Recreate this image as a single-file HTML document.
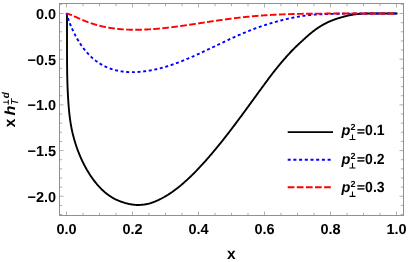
<!DOCTYPE html>
<html><head><meta charset="utf-8"><title>plot</title>
<style>html,body{margin:0;padding:0;background:#fff}svg{display:block;will-change:transform;text-rendering:geometricPrecision}</style></head>
<body>
<svg width="408" height="262" viewBox="0 0 408 262">
<rect width="408" height="262" fill="#fff"/>
<path d="M66.50,215.5v-4.0M66.50,3.5v4.0M83.00,215.5v-2.7M83.00,3.5v2.7M99.50,215.5v-2.7M99.50,3.5v2.7M116.00,215.5v-2.7M116.00,3.5v2.7M132.50,215.5v-4.0M132.50,3.5v4.0M149.00,215.5v-2.7M149.00,3.5v2.7M165.50,215.5v-2.7M165.50,3.5v2.7M182.00,215.5v-2.7M182.00,3.5v2.7M198.50,215.5v-4.0M198.50,3.5v4.0M215.00,215.5v-2.7M215.00,3.5v2.7M231.50,215.5v-2.7M231.50,3.5v2.7M248.00,215.5v-2.7M248.00,3.5v2.7M264.50,215.5v-4.0M264.50,3.5v4.0M281.00,215.5v-2.7M281.00,3.5v2.7M297.50,215.5v-2.7M297.50,3.5v2.7M314.00,215.5v-2.7M314.00,3.5v2.7M330.50,215.5v-4.0M330.50,3.5v4.0M347.00,215.5v-2.7M347.00,3.5v2.7M363.50,215.5v-2.7M363.50,3.5v2.7M380.00,215.5v-2.7M380.00,3.5v2.7M396.50,215.5v-4.0M396.50,3.5v4.0M59.5,214.54h2.7M403.5,214.54h-2.7M59.5,205.40h2.7M403.5,205.40h-2.7M59.5,196.26h4.0M403.5,196.26h-4.0M59.5,187.12h2.7M403.5,187.12h-2.7M59.5,177.98h2.7M403.5,177.98h-2.7M59.5,168.85h2.7M403.5,168.85h-2.7M59.5,159.71h2.7M403.5,159.71h-2.7M59.5,150.57h4.0M403.5,150.57h-4.0M59.5,141.43h2.7M403.5,141.43h-2.7M59.5,132.29h2.7M403.5,132.29h-2.7M59.5,123.16h2.7M403.5,123.16h-2.7M59.5,114.02h2.7M403.5,114.02h-2.7M59.5,104.88h4.0M403.5,104.88h-4.0M59.5,95.74h2.7M403.5,95.74h-2.7M59.5,86.60h2.7M403.5,86.60h-2.7M59.5,77.47h2.7M403.5,77.47h-2.7M59.5,68.33h2.7M403.5,68.33h-2.7M59.5,59.19h4.0M403.5,59.19h-4.0M59.5,50.05h2.7M403.5,50.05h-2.7M59.5,40.91h2.7M403.5,40.91h-2.7M59.5,31.78h2.7M403.5,31.78h-2.7M59.5,22.64h2.7M403.5,22.64h-2.7M59.5,13.50h4.0M403.5,13.50h-4.0M59.5,4.36h2.7M403.5,4.36h-2.7" stroke="#a0a0a0" stroke-width="0.85" fill="none"/>
<rect x="59.5" y="3.5" width="344.0" height="212.0" fill="none" stroke="#909090" stroke-width="1"/>
<g fill="none" stroke-width="1.9" stroke-linejoin="round">
<path d="M67.00,13.50 L67.00,30.98 L67.00,40.80 L67.03,56.16 L67.10,66.29 L67.20,73.90 L67.33,80.21 L67.50,85.71 L67.66,89.89 L67.93,95.14 L68.36,101.96 L68.73,107.19 L69.12,111.48 L69.52,115.17 L69.93,118.41 L70.35,121.33 L70.76,123.99 L71.19,126.44 L71.61,128.71 L72.05,130.84 L72.51,132.84 L72.98,134.74 L73.44,136.54 L73.90,138.26 L74.37,139.90 L74.83,141.48 L75.29,142.99 L75.75,144.45 L76.22,145.86 L76.68,147.22 L77.14,148.54 L77.60,149.82 L78.07,151.06 L78.53,152.26 L78.99,153.44 L79.45,154.58 L79.92,155.69 L80.38,156.78 L80.84,157.84 L81.31,158.87 L81.77,159.88 L82.23,160.87 L82.69,161.84 L83.16,162.79 L83.62,163.72 L84.08,164.62 L84.54,165.51 L85.01,166.39 L85.47,167.24 L85.93,168.08 L86.40,168.91 L86.86,169.71 L87.32,170.51 L87.78,171.29 L88.25,172.05 L88.71,172.80 L89.17,173.54 L89.64,174.26 L90.10,174.98 L90.56,175.68 L91.02,176.37 L91.49,177.04 L91.95,177.71 L92.41,178.36 L92.88,179.00 L93.34,179.63 L93.80,180.25 L94.26,180.86 L94.73,181.46 L95.19,182.05 L95.65,182.63 L96.12,183.20 L96.58,183.76 L97.04,184.31 L97.50,184.86 L97.97,185.39 L98.43,185.91 L98.89,186.43 L99.36,186.93 L99.82,187.43 L100.28,187.92 L100.74,188.40 L101.21,188.87 L101.67,189.32 L102.13,189.77 L102.60,190.21 L103.06,190.64 L103.52,191.06 L103.99,191.48 L104.45,191.88 L104.91,192.28 L105.37,192.66 L105.84,193.04 L106.30,193.41 L106.76,193.78 L107.23,194.13 L107.69,194.48 L108.15,194.82 L108.62,195.16 L109.08,195.48 L109.54,195.80 L110.01,196.12 L110.47,196.42 L110.93,196.72 L111.40,197.02 L111.86,197.30 L112.32,197.58 L112.79,197.86 L113.25,198.12 L113.71,198.38 L114.18,198.63 L114.64,198.87 L115.10,199.11 L115.57,199.34 L116.03,199.56 L116.49,199.78 L116.96,199.99 L117.42,200.20 L117.88,200.40 L118.35,200.59 L118.81,200.78 L119.27,200.97 L119.74,201.15 L120.20,201.33 L120.66,201.50 L121.13,201.67 L121.59,201.84 L122.05,202.00 L122.52,202.16 L122.98,202.31 L123.44,202.46 L123.91,202.61 L124.37,202.76 L124.83,202.90 L125.30,203.04 L125.76,203.17 L126.22,203.30 L126.69,203.42 L127.15,203.54 L127.62,203.66 L128.08,203.77 L128.54,203.87 L129.01,203.97 L129.47,204.06 L129.93,204.15 L130.40,204.23 L130.86,204.31 L131.33,204.39 L131.79,204.46 L132.25,204.53 L132.72,204.60 L133.18,204.66 L133.64,204.72 L134.11,204.77 L134.57,204.81 L135.04,204.85 L135.50,204.89 L135.96,204.91 L136.43,204.93 L136.89,204.95 L137.36,204.96 L137.82,204.97 L138.28,204.97 L138.75,204.96 L139.21,204.95 L139.68,204.94 L140.14,204.92 L140.60,204.89 L141.07,204.86 L141.53,204.82 L142.00,204.78 L142.46,204.74 L142.93,204.69 L143.39,204.63 L143.85,204.58 L144.32,204.52 L144.78,204.45 L145.25,204.38 L145.71,204.30 L146.18,204.22 L146.64,204.13 L147.10,204.04 L147.57,203.94 L148.03,203.83 L148.50,203.72 L148.96,203.60 L149.43,203.47 L149.89,203.33 L150.36,203.19 L150.82,203.04 L151.29,202.89 L151.75,202.74 L152.21,202.58 L152.68,202.41 L153.14,202.24 L153.61,202.07 L154.07,201.89 L154.54,201.71 L155.00,201.52 L155.47,201.33 L155.93,201.14 L156.40,200.94 L156.86,200.74 L157.33,200.53 L157.79,200.32 L158.26,200.11 L158.72,199.89 L159.19,199.67 L159.65,199.44 L160.12,199.21 L160.58,198.98 L161.05,198.74 L161.51,198.50 L161.98,198.25 L162.44,198.00 L162.91,197.75 L163.37,197.49 L163.84,197.23 L164.30,196.97 L164.77,196.70 L165.23,196.43 L165.70,196.16 L166.16,195.88 L166.63,195.59 L167.09,195.31 L167.56,195.02 L168.03,194.73 L168.49,194.43 L168.96,194.13 L169.42,193.83 L169.89,193.52 L170.35,193.21 L170.82,192.90 L171.28,192.58 L171.75,192.26 L172.22,191.94 L172.68,191.61 L173.15,191.28 L173.61,190.94 L174.08,190.60 L174.54,190.26 L175.01,189.92 L175.48,189.57 L175.94,189.22 L176.41,188.86 L176.87,188.51 L177.34,188.14 L177.81,187.78 L178.27,187.41 L178.74,187.04 L179.20,186.66 L179.67,186.28 L180.14,185.90 L180.60,185.51 L181.07,185.13 L181.53,184.73 L182.00,184.34 L182.47,183.94 L182.93,183.54 L183.40,183.13 L183.87,182.73 L184.33,182.31 L184.80,181.90 L185.27,181.48 L185.73,181.06 L186.20,180.64 L186.66,180.22 L187.13,179.79 L187.60,179.36 L188.06,178.92 L188.53,178.49 L189.00,178.05 L189.46,177.61 L189.93,177.16 L190.40,176.72 L190.87,176.27 L191.33,175.82 L191.80,175.36 L192.27,174.90 L192.73,174.44 L193.20,173.98 L193.67,173.51 L194.13,173.05 L194.60,172.58 L195.07,172.10 L195.53,171.62 L196.00,171.15 L196.47,170.66 L196.94,170.18 L197.40,169.69 L197.87,169.20 L198.34,168.71 L198.81,168.22 L199.27,167.72 L199.74,167.22 L200.21,166.72 L200.68,166.22 L201.14,165.71 L201.61,165.20 L202.08,164.69 L202.55,164.18 L203.01,163.67 L203.48,163.15 L203.95,162.63 L204.42,162.11 L204.88,161.58 L205.35,161.06 L205.82,160.53 L206.29,160.00 L206.76,159.47 L207.22,158.94 L207.69,158.40 L208.16,157.87 L208.63,157.33 L209.10,156.79 L209.56,156.24 L210.03,155.70 L210.50,155.15 L210.97,154.61 L211.44,154.06 L211.91,153.51 L212.37,152.95 L212.84,152.40 L213.31,151.84 L213.78,151.29 L214.25,150.73 L214.72,150.17 L215.18,149.61 L215.65,149.04 L216.12,148.48 L216.59,147.91 L217.06,147.34 L217.53,146.77 L218.00,146.20 L218.47,145.62 L218.93,145.05 L219.40,144.47 L219.87,143.89 L220.34,143.31 L220.81,142.73 L221.28,142.14 L221.75,141.56 L222.22,140.97 L222.69,140.38 L223.16,139.79 L223.63,139.20 L224.09,138.60 L224.56,138.01 L225.03,137.41 L225.50,136.81 L225.97,136.21 L226.44,135.61 L226.91,135.01 L227.38,134.40 L227.85,133.80 L228.32,133.19 L228.79,132.58 L229.26,131.97 L229.73,131.36 L230.20,130.75 L230.67,130.14 L231.14,129.52 L231.61,128.91 L232.08,128.29 L232.55,127.67 L233.02,127.05 L233.49,126.43 L233.96,125.81 L234.43,125.18 L234.90,124.56 L235.37,123.93 L235.84,123.31 L236.31,122.68 L236.78,122.05 L237.25,121.42 L237.72,120.79 L238.19,120.16 L238.66,119.53 L239.13,118.89 L239.60,118.26 L240.08,117.62 L240.55,116.99 L241.02,116.35 L241.49,115.71 L241.96,115.07 L242.43,114.44 L242.90,113.80 L243.37,113.15 L243.84,112.51 L244.31,111.87 L244.78,111.23 L245.26,110.59 L245.73,109.94 L246.20,109.30 L246.67,108.65 L247.14,108.01 L247.61,107.36 L248.08,106.72 L248.56,106.07 L249.03,105.42 L249.50,104.78 L249.97,104.13 L250.44,103.48 L250.91,102.83 L251.39,102.18 L251.86,101.53 L252.33,100.88 L252.80,100.24 L253.27,99.59 L253.75,98.94 L254.22,98.29 L254.69,97.64 L255.16,96.99 L255.63,96.34 L256.11,95.69 L256.58,95.04 L257.05,94.39 L257.52,93.74 L258.00,93.09 L258.47,92.44 L258.94,91.80 L259.41,91.15 L259.89,90.50 L260.36,89.85 L260.83,89.20 L261.30,88.56 L261.78,87.91 L262.25,87.26 L262.72,86.62 L263.20,85.97 L263.67,85.33 L264.14,84.69 L264.61,84.04 L265.09,83.40 L265.56,82.76 L266.03,82.12 L266.51,81.48 L266.98,80.84 L267.45,80.20 L267.93,79.56 L268.40,78.92 L268.87,78.29 L269.35,77.65 L269.82,77.02 L270.30,76.39 L270.77,75.76 L271.24,75.13 L271.72,74.51 L272.19,73.89 L272.66,73.28 L273.14,72.67 L273.61,72.06 L274.09,71.46 L274.56,70.85 L275.04,70.26 L275.51,69.66 L275.98,69.07 L276.46,68.48 L276.93,67.89 L277.41,67.31 L277.88,66.73 L278.36,66.15 L278.83,65.58 L279.31,65.00 L279.78,64.43 L280.26,63.87 L280.73,63.30 L281.21,62.74 L281.68,62.18 L282.15,61.62 L282.63,61.07 L283.11,60.52 L283.58,59.97 L284.06,59.42 L284.53,58.87 L285.01,58.33 L285.48,57.79 L285.96,57.25 L286.43,56.71 L286.91,56.18 L287.38,55.64 L287.86,55.11 L288.34,54.58 L288.81,54.06 L289.29,53.54 L289.76,53.02 L290.24,52.52 L290.71,52.01 L291.19,51.51 L291.67,51.02 L292.14,50.52 L292.62,50.04 L293.10,49.55 L293.57,49.07 L294.05,48.60 L294.52,48.12 L295.00,47.66 L295.48,47.19 L295.95,46.73 L296.43,46.27 L296.91,45.81 L297.38,45.35 L297.86,44.90 L298.34,44.45 L298.81,44.00 L299.29,43.55 L299.77,43.11 L300.25,42.66 L300.72,42.22 L301.20,41.78 L301.68,41.34 L302.16,40.90 L302.63,40.46 L303.11,40.02 L303.59,39.59 L304.07,39.15 L304.54,38.71 L305.02,38.27 L305.50,37.84 L305.98,37.40 L306.45,36.97 L306.93,36.55 L307.41,36.13 L307.89,35.71 L308.37,35.29 L308.84,34.88 L309.32,34.48 L309.80,34.07 L310.28,33.67 L310.76,33.28 L311.24,32.89 L311.71,32.50 L312.19,32.12 L312.67,31.74 L313.15,31.37 L313.63,31.00 L314.11,30.63 L314.59,30.27 L315.07,29.92 L315.55,29.57 L316.02,29.22 L316.50,28.88 L316.98,28.54 L317.46,28.21 L317.94,27.88 L318.42,27.56 L318.90,27.25 L319.38,26.94 L319.86,26.63 L320.34,26.33 L320.82,26.03 L321.30,25.74 L321.78,25.46 L322.26,25.18 L322.74,24.90 L323.22,24.63 L323.70,24.36 L324.18,24.10 L324.66,23.84 L325.14,23.59 L325.62,23.34 L326.10,23.10 L326.58,22.86 L327.06,22.63 L327.54,22.40 L328.02,22.17 L328.50,21.95 L328.98,21.73 L329.46,21.52 L329.95,21.31 L330.43,21.10 L330.91,20.90 L331.39,20.71 L331.87,20.51 L332.35,20.32 L332.83,20.13 L333.31,19.95 L333.80,19.77 L334.28,19.59 L334.76,19.42 L335.24,19.25 L335.72,19.08 L336.20,18.92 L336.69,18.76 L337.17,18.61 L337.65,18.45 L338.13,18.30 L338.61,18.16 L339.10,18.01 L339.58,17.87 L340.06,17.74 L340.54,17.60 L341.03,17.46 L341.51,17.32 L341.99,17.18 L342.47,17.05 L342.96,16.91 L343.44,16.77 L343.92,16.64 L344.40,16.50 L344.89,16.37 L345.37,16.24 L345.85,16.11 L346.34,15.99 L346.82,15.87 L347.30,15.75 L347.79,15.63 L348.27,15.52 L348.75,15.42 L349.24,15.32 L349.72,15.22 L350.21,15.13 L350.69,15.04 L351.17,14.95 L351.66,14.87 L352.14,14.78 L352.63,14.70 L353.11,14.63 L353.59,14.55 L354.08,14.48 L354.56,14.41 L355.05,14.35 L355.53,14.29 L356.02,14.23 L356.50,14.17 L356.99,14.12 L357.47,14.08 L357.96,14.03 L358.44,13.99 L358.93,13.95 L359.41,13.90 L359.90,13.87 L360.38,13.83 L360.87,13.79 L361.35,13.76 L361.84,13.73 L362.32,13.70 L362.81,13.67 L363.29,13.64 L363.78,13.62 L364.27,13.60 L364.75,13.59 L365.24,13.57 L365.72,13.56 L366.21,13.56 L366.70,13.55 L367.18,13.55 L367.67,13.54 L368.16,13.54 L368.64,13.53 L369.13,13.53 L369.62,13.52 L370.10,13.52 L370.59,13.52 L371.08,13.52 L371.56,13.51 L372.05,13.51 L372.54,13.51 L373.02,13.51 L373.51,13.51 L374.00,13.51 L374.49,13.51 L374.97,13.50 L375.46,13.50 L375.95,13.50 L376.44,13.50 L376.92,13.50 L377.41,13.50 L377.90,13.50 L378.39,13.50 L378.88,13.50 L379.36,13.50 L379.85,13.50 L380.34,13.50 L380.83,13.50 L381.32,13.50 L381.81,13.50 L382.29,13.50 L382.78,13.50 L383.27,13.50 L383.76,13.50 L384.25,13.50 L384.74,13.50 L385.23,13.50 L385.72,13.50 L386.21,13.50 L386.70,13.50 L387.19,13.50 L387.68,13.50 L388.16,13.50 L388.65,13.50 L389.14,13.50 L389.63,13.50 L390.12,13.50 L390.61,13.50 L391.10,13.50 L391.59,13.50 L392.08,13.50 L392.57,13.50 L393.07,13.50 L393.56,13.50 L394.05,13.50 L394.54,13.50 L395.03,13.50 L395.52,13.50 L396.01,13.50 L396.50,13.50 L397.50,13.50" stroke="#000"/>
<path d="M66.50,13.50 L66.50,13.50 L66.50,13.52 L66.53,13.65 L66.60,13.92 L66.70,14.28 L66.83,14.75 L67.00,15.30 L67.16,15.84 L67.43,16.68 L67.89,18.07 L68.35,19.40 L68.81,20.68 L69.28,21.92 L69.74,23.12 L70.20,24.29 L70.66,25.42 L71.13,26.52 L71.59,27.59 L72.05,28.64 L72.51,29.66 L72.98,30.66 L73.44,31.64 L73.90,32.59 L74.37,33.52 L74.83,34.43 L75.29,35.32 L75.75,36.19 L76.22,37.04 L76.68,37.88 L77.14,38.69 L77.60,39.49 L78.07,40.27 L78.53,41.04 L78.99,41.79 L79.45,42.52 L79.92,43.24 L80.38,43.95 L80.84,44.64 L81.31,45.31 L81.77,45.97 L82.23,46.62 L82.69,47.26 L83.16,47.88 L83.62,48.49 L84.08,49.09 L84.54,49.67 L85.01,50.25 L85.47,50.81 L85.93,51.36 L86.40,51.90 L86.86,52.43 L87.32,52.95 L87.78,53.45 L88.25,53.95 L88.71,54.44 L89.17,54.92 L89.64,55.38 L90.10,55.84 L90.56,56.29 L91.02,56.73 L91.49,57.16 L91.95,57.58 L92.41,58.00 L92.88,58.40 L93.34,58.80 L93.80,59.18 L94.26,59.56 L94.73,59.94 L95.19,60.30 L95.65,60.66 L96.12,61.01 L96.58,61.35 L97.04,61.68 L97.50,62.01 L97.97,62.33 L98.43,62.64 L98.89,62.95 L99.36,63.25 L99.82,63.54 L100.28,63.83 L100.74,64.11 L101.21,64.38 L101.67,64.65 L102.13,64.91 L102.60,65.17 L103.06,65.42 L103.52,65.66 L103.99,65.90 L104.45,66.13 L104.91,66.36 L105.37,66.58 L105.84,66.79 L106.30,67.00 L106.76,67.21 L107.23,67.41 L107.69,67.61 L108.15,67.80 L108.62,67.98 L109.08,68.16 L109.54,68.34 L110.01,68.51 L110.47,68.67 L110.93,68.83 L111.40,68.99 L111.86,69.14 L112.32,69.29 L112.79,69.44 L113.25,69.58 L113.71,69.71 L114.18,69.84 L114.64,69.97 L115.10,70.09 L115.57,70.21 L116.03,70.32 L116.49,70.43 L116.96,70.54 L117.42,70.64 L117.88,70.74 L118.35,70.84 L118.81,70.93 L119.27,71.02 L119.74,71.10 L120.20,71.18 L120.66,71.26 L121.13,71.34 L121.59,71.41 L122.05,71.47 L122.52,71.54 L122.98,71.60 L123.44,71.65 L123.91,71.71 L124.37,71.76 L124.83,71.81 L125.30,71.85 L125.76,71.89 L126.22,71.93 L126.69,71.97 L127.15,72.00 L127.62,72.03 L128.08,72.05 L128.54,72.08 L129.01,72.10 L129.47,72.11 L129.93,72.13 L130.40,72.14 L130.86,72.15 L131.33,72.16 L131.79,72.16 L132.25,72.16 L132.72,72.16 L133.18,72.16 L133.64,72.15 L134.11,72.14 L134.57,72.13 L135.04,72.11 L135.50,72.10 L135.96,72.08 L136.43,72.06 L136.89,72.03 L137.36,72.01 L137.82,71.98 L138.28,71.95 L138.75,71.91 L139.21,71.88 L139.68,71.84 L140.14,71.80 L140.60,71.76 L141.07,71.72 L141.53,71.68 L142.00,71.63 L142.46,71.58 L142.93,71.53 L143.39,71.47 L143.85,71.42 L144.32,71.36 L144.78,71.30 L145.25,71.24 L145.71,71.18 L146.18,71.11 L146.64,71.05 L147.10,70.98 L147.57,70.91 L148.03,70.83 L148.50,70.76 L148.96,70.68 L149.43,70.60 L149.89,70.52 L150.36,70.44 L150.82,70.36 L151.29,70.27 L151.75,70.18 L152.21,70.10 L152.68,70.00 L153.14,69.91 L153.61,69.82 L154.07,69.72 L154.54,69.62 L155.00,69.52 L155.47,69.42 L155.93,69.32 L156.40,69.21 L156.86,69.10 L157.33,69.00 L157.79,68.88 L158.26,68.77 L158.72,68.66 L159.19,68.54 L159.65,68.43 L160.12,68.31 L160.58,68.19 L161.05,68.07 L161.51,67.94 L161.98,67.82 L162.44,67.69 L162.91,67.56 L163.37,67.43 L163.84,67.30 L164.30,67.16 L164.77,67.03 L165.23,66.89 L165.70,66.76 L166.16,66.62 L166.63,66.47 L167.09,66.33 L167.56,66.19 L168.03,66.04 L168.49,65.89 L168.96,65.74 L169.42,65.59 L169.89,65.44 L170.35,65.29 L170.82,65.13 L171.28,64.98 L171.75,64.82 L172.22,64.66 L172.68,64.50 L173.15,64.34 L173.61,64.18 L174.08,64.01 L174.54,63.85 L175.01,63.68 L175.48,63.51 L175.94,63.34 L176.41,63.17 L176.87,63.00 L177.34,62.83 L177.81,62.66 L178.27,62.48 L178.74,62.30 L179.20,62.13 L179.67,61.95 L180.14,61.77 L180.60,61.59 L181.07,61.41 L181.53,61.22 L182.00,61.04 L182.47,60.85 L182.93,60.67 L183.40,60.48 L183.87,60.29 L184.33,60.10 L184.80,59.91 L185.27,59.72 L185.73,59.53 L186.20,59.34 L186.66,59.14 L187.13,58.95 L187.60,58.75 L188.06,58.55 L188.53,58.36 L189.00,58.16 L189.46,57.96 L189.93,57.76 L190.40,57.56 L190.87,57.36 L191.33,57.15 L191.80,56.95 L192.27,56.75 L192.73,56.54 L193.20,56.33 L193.67,56.13 L194.13,55.92 L194.60,55.71 L195.07,55.50 L195.53,55.29 L196.00,55.08 L196.47,54.87 L196.94,54.66 L197.40,54.45 L197.87,54.24 L198.34,54.03 L198.81,53.81 L199.27,53.60 L199.74,53.38 L200.21,53.17 L200.68,52.95 L201.14,52.73 L201.61,52.52 L202.08,52.30 L202.55,52.08 L203.01,51.86 L203.48,51.65 L203.95,51.43 L204.42,51.21 L204.88,50.99 L205.35,50.77 L205.82,50.55 L206.29,50.33 L206.76,50.10 L207.22,49.88 L207.69,49.66 L208.16,49.44 L208.63,49.22 L209.10,48.99 L209.56,48.77 L210.03,48.55 L210.50,48.32 L210.97,48.10 L211.44,47.88 L211.91,47.65 L212.37,47.43 L212.84,47.21 L213.31,46.98 L213.78,46.76 L214.25,46.53 L214.72,46.31 L215.18,46.08 L215.65,45.86 L216.12,45.64 L216.59,45.41 L217.06,45.19 L217.53,44.96 L218.00,44.74 L218.47,44.51 L218.93,44.29 L219.40,44.07 L219.87,43.84 L220.34,43.62 L220.81,43.39 L221.28,43.17 L221.75,42.95 L222.22,42.72 L222.69,42.50 L223.16,42.28 L223.63,42.06 L224.09,41.84 L224.56,41.61 L225.03,41.39 L225.50,41.17 L225.97,40.95 L226.44,40.73 L226.91,40.51 L227.38,40.29 L227.85,40.07 L228.32,39.85 L228.79,39.64 L229.26,39.42 L229.73,39.20 L230.20,38.98 L230.67,38.77 L231.14,38.55 L231.61,38.34 L232.08,38.12 L232.55,37.91 L233.02,37.69 L233.49,37.48 L233.96,37.27 L234.43,37.06 L234.90,36.84 L235.37,36.63 L235.84,36.42 L236.31,36.21 L236.78,36.00 L237.25,35.80 L237.72,35.59 L238.19,35.38 L238.66,35.18 L239.13,34.97 L239.60,34.77 L240.08,34.56 L240.55,34.36 L241.02,34.16 L241.49,33.95 L241.96,33.75 L242.43,33.55 L242.90,33.35 L243.37,33.15 L243.84,32.96 L244.31,32.76 L244.78,32.56 L245.26,32.37 L245.73,32.17 L246.20,31.98 L246.67,31.79 L247.14,31.60 L247.61,31.41 L248.08,31.22 L248.56,31.03 L249.03,30.84 L249.50,30.65 L249.97,30.47 L250.44,30.28 L250.91,30.10 L251.39,29.91 L251.86,29.73 L252.33,29.55 L252.80,29.37 L253.27,29.19 L253.75,29.01 L254.22,28.83 L254.69,28.66 L255.16,28.48 L255.63,28.31 L256.11,28.13 L256.58,27.96 L257.05,27.79 L257.52,27.62 L258.00,27.45 L258.47,27.28 L258.94,27.12 L259.41,26.95 L259.89,26.79 L260.36,26.62 L260.83,26.46 L261.30,26.30 L261.78,26.14 L262.25,25.98 L262.72,25.82 L263.20,25.67 L263.67,25.51 L264.14,25.36 L264.61,25.20 L265.09,25.05 L265.56,24.90 L266.03,24.75 L266.51,24.60 L266.98,24.45 L267.45,24.31 L267.93,24.16 L268.40,24.02 L268.87,23.87 L269.35,23.73 L269.82,23.59 L270.30,23.45 L270.77,23.31 L271.24,23.17 L271.72,23.03 L272.19,22.89 L272.66,22.76 L273.14,22.62 L273.61,22.48 L274.09,22.34 L274.56,22.21 L275.04,22.07 L275.51,21.93 L275.98,21.80 L276.46,21.66 L276.93,21.53 L277.41,21.40 L277.88,21.27 L278.36,21.13 L278.83,21.00 L279.31,20.87 L279.78,20.75 L280.26,20.62 L280.73,20.49 L281.21,20.37 L281.68,20.24 L282.15,20.12 L282.63,20.00 L283.11,19.88 L283.58,19.76 L284.06,19.64 L284.53,19.53 L285.01,19.41 L285.48,19.30 L285.96,19.19 L286.43,19.08 L286.91,18.97 L287.38,18.86 L287.86,18.75 L288.34,18.65 L288.81,18.54 L289.29,18.44 L289.76,18.34 L290.24,18.23 L290.71,18.13 L291.19,18.03 L291.67,17.93 L292.14,17.83 L292.62,17.74 L293.10,17.64 L293.57,17.54 L294.05,17.45 L294.52,17.36 L295.00,17.26 L295.48,17.17 L295.95,17.08 L296.43,16.99 L296.91,16.91 L297.38,16.82 L297.86,16.74 L298.34,16.65 L298.81,16.57 L299.29,16.49 L299.77,16.41 L300.25,16.34 L300.72,16.26 L301.20,16.19 L301.68,16.11 L302.16,16.04 L302.63,15.97 L303.11,15.90 L303.59,15.84 L304.07,15.77 L304.54,15.70 L305.02,15.64 L305.50,15.58 L305.98,15.51 L306.45,15.45 L306.93,15.39 L307.41,15.33 L307.89,15.27 L308.37,15.22 L308.84,15.16 L309.32,15.11 L309.80,15.05 L310.28,15.00 L310.76,14.95 L311.24,14.90 L311.71,14.85 L312.19,14.81 L312.67,14.76 L313.15,14.72 L313.63,14.68 L314.11,14.64 L314.59,14.60 L315.07,14.56 L315.55,14.53 L316.02,14.50 L316.50,14.47 L316.98,14.44 L317.46,14.41 L317.94,14.38 L318.42,14.36 L318.90,14.34 L319.38,14.32 L319.86,14.29 L320.34,14.28 L320.82,14.26 L321.30,14.24 L321.78,14.22 L322.26,14.21 L322.74,14.19 L323.22,14.18 L323.70,14.16 L324.18,14.15 L324.66,14.14 L325.14,14.12 L325.62,14.11 L326.10,14.10 L326.58,14.08 L327.06,14.07 L327.54,14.05 L328.02,14.04 L328.50,14.03 L328.98,14.01 L329.46,14.00 L329.95,13.98 L330.43,13.96 L330.91,13.95 L331.39,13.93 L331.87,13.92 L332.35,13.90 L332.83,13.89 L333.31,13.87 L333.80,13.86 L334.28,13.85 L334.76,13.83 L335.24,13.82 L335.72,13.81 L336.20,13.80 L336.69,13.79 L337.17,13.78 L337.65,13.76 L338.13,13.75 L338.61,13.74 L339.10,13.73 L339.58,13.73 L340.06,13.72 L340.54,13.71 L341.03,13.70 L341.51,13.69 L341.99,13.68 L342.47,13.68 L342.96,13.67 L343.44,13.66 L343.92,13.65 L344.40,13.65 L344.89,13.64 L345.37,13.63 L345.85,13.63 L346.34,13.62 L346.82,13.62 L347.30,13.61 L347.79,13.61 L348.27,13.60 L348.75,13.60 L349.24,13.59 L349.72,13.59 L350.21,13.58 L350.69,13.58 L351.17,13.58 L351.66,13.57 L352.14,13.57 L352.63,13.56 L353.11,13.56 L353.59,13.56 L354.08,13.56 L354.56,13.55 L355.05,13.55 L355.53,13.55 L356.02,13.54 L356.50,13.54 L356.99,13.54 L357.47,13.54 L357.96,13.54 L358.44,13.53 L358.93,13.53 L359.41,13.53 L359.90,13.53 L360.38,13.53 L360.87,13.52 L361.35,13.52 L361.84,13.52 L362.32,13.52 L362.81,13.52 L363.29,13.52 L363.78,13.52 L364.27,13.52 L364.75,13.51 L365.24,13.51 L365.72,13.51 L366.21,13.51 L366.70,13.51 L367.18,13.51 L367.67,13.51 L368.16,13.51 L368.64,13.51 L369.13,13.51 L369.62,13.51 L370.10,13.51 L370.59,13.51 L371.08,13.51 L371.56,13.50 L372.05,13.50 L372.54,13.50 L373.02,13.50 L373.51,13.50 L374.00,13.50 L374.49,13.50 L374.97,13.50 L375.46,13.50 L375.95,13.50 L376.44,13.50 L376.92,13.50 L377.41,13.50 L377.90,13.50 L378.39,13.50 L378.88,13.50 L379.36,13.50 L379.85,13.50 L380.34,13.50 L380.83,13.50 L381.32,13.50 L381.81,13.50 L382.29,13.50 L382.78,13.50 L383.27,13.50 L383.76,13.50 L384.25,13.50 L384.74,13.50 L385.23,13.50 L385.72,13.50 L386.21,13.50 L386.70,13.50 L387.19,13.50 L387.68,13.50 L388.16,13.50 L388.65,13.50 L389.14,13.50 L389.63,13.50 L390.12,13.50 L390.61,13.50 L391.10,13.50 L391.59,13.50 L392.08,13.50 L392.57,13.50 L393.07,13.50 L393.56,13.50 L394.05,13.50 L394.54,13.50 L395.03,13.50 L395.52,13.50 L396.01,13.50 L396.50,13.50" stroke="#0000ff" stroke-dasharray="3 2.65" stroke-dashoffset="1.0"/>
<path d="M66.50,13.50 L66.50,13.50 L66.50,13.50 L66.53,13.50 L66.60,13.51 L66.70,13.52 L66.83,13.54 L67.00,13.57 L67.16,13.60 L67.43,13.66 L67.89,13.78 L68.35,13.92 L68.81,14.07 L69.28,14.23 L69.74,14.40 L70.20,14.58 L70.66,14.76 L71.13,14.95 L71.59,15.14 L72.05,15.34 L72.51,15.54 L72.98,15.74 L73.44,15.95 L73.90,16.15 L74.37,16.36 L74.83,16.57 L75.29,16.77 L75.75,16.98 L76.22,17.19 L76.68,17.40 L77.14,17.61 L77.60,17.82 L78.07,18.02 L78.53,18.23 L78.99,18.43 L79.45,18.64 L79.92,18.84 L80.38,19.04 L80.84,19.24 L81.31,19.44 L81.77,19.64 L82.23,19.84 L82.69,20.03 L83.16,20.22 L83.62,20.41 L84.08,20.60 L84.54,20.79 L85.01,20.98 L85.47,21.16 L85.93,21.34 L86.40,21.52 L86.86,21.70 L87.32,21.87 L87.78,22.04 L88.25,22.22 L88.71,22.38 L89.17,22.55 L89.64,22.72 L90.10,22.88 L90.56,23.04 L91.02,23.20 L91.49,23.35 L91.95,23.51 L92.41,23.66 L92.88,23.81 L93.34,23.95 L93.80,24.10 L94.26,24.24 L94.73,24.38 L95.19,24.52 L95.65,24.66 L96.12,24.79 L96.58,24.92 L97.04,25.05 L97.50,25.18 L97.97,25.31 L98.43,25.43 L98.89,25.55 L99.36,25.67 L99.82,25.79 L100.28,25.91 L100.74,26.02 L101.21,26.13 L101.67,26.24 L102.13,26.35 L102.60,26.45 L103.06,26.56 L103.52,26.66 L103.99,26.76 L104.45,26.86 L104.91,26.95 L105.37,27.05 L105.84,27.14 L106.30,27.23 L106.76,27.32 L107.23,27.40 L107.69,27.49 L108.15,27.57 L108.62,27.65 L109.08,27.73 L109.54,27.81 L110.01,27.88 L110.47,27.96 L110.93,28.03 L111.40,28.10 L111.86,28.17 L112.32,28.24 L112.79,28.30 L113.25,28.37 L113.71,28.43 L114.18,28.49 L114.64,28.55 L115.10,28.61 L115.57,28.66 L116.03,28.72 L116.49,28.77 L116.96,28.82 L117.42,28.87 L117.88,28.92 L118.35,28.97 L118.81,29.01 L119.27,29.06 L119.74,29.10 L120.20,29.14 L120.66,29.18 L121.13,29.22 L121.59,29.26 L122.05,29.29 L122.52,29.33 L122.98,29.36 L123.44,29.39 L123.91,29.42 L124.37,29.45 L124.83,29.48 L125.30,29.50 L125.76,29.53 L126.22,29.55 L126.69,29.57 L127.15,29.59 L127.62,29.61 L128.08,29.63 L128.54,29.65 L129.01,29.67 L129.47,29.68 L129.93,29.69 L130.40,29.71 L130.86,29.72 L131.33,29.73 L131.79,29.74 L132.25,29.75 L132.72,29.75 L133.18,29.76 L133.64,29.76 L134.11,29.77 L134.57,29.77 L135.04,29.77 L135.50,29.77 L135.96,29.77 L136.43,29.77 L136.89,29.77 L137.36,29.76 L137.82,29.76 L138.28,29.75 L138.75,29.74 L139.21,29.74 L139.68,29.73 L140.14,29.72 L140.60,29.71 L141.07,29.70 L141.53,29.68 L142.00,29.67 L142.46,29.65 L142.93,29.64 L143.39,29.62 L143.85,29.61 L144.32,29.59 L144.78,29.57 L145.25,29.55 L145.71,29.53 L146.18,29.51 L146.64,29.48 L147.10,29.46 L147.57,29.44 L148.03,29.41 L148.50,29.39 L148.96,29.36 L149.43,29.33 L149.89,29.30 L150.36,29.27 L150.82,29.24 L151.29,29.21 L151.75,29.18 L152.21,29.15 L152.68,29.12 L153.14,29.08 L153.61,29.05 L154.07,29.01 L154.54,28.98 L155.00,28.94 L155.47,28.90 L155.93,28.87 L156.40,28.83 L156.86,28.79 L157.33,28.75 L157.79,28.71 L158.26,28.67 L158.72,28.62 L159.19,28.58 L159.65,28.54 L160.12,28.49 L160.58,28.45 L161.05,28.41 L161.51,28.36 L161.98,28.31 L162.44,28.27 L162.91,28.22 L163.37,28.17 L163.84,28.12 L164.30,28.07 L164.77,28.02 L165.23,27.97 L165.70,27.92 L166.16,27.87 L166.63,27.82 L167.09,27.77 L167.56,27.71 L168.03,27.66 L168.49,27.60 L168.96,27.55 L169.42,27.50 L169.89,27.44 L170.35,27.38 L170.82,27.33 L171.28,27.27 L171.75,27.21 L172.22,27.16 L172.68,27.10 L173.15,27.04 L173.61,26.98 L174.08,26.92 L174.54,26.86 L175.01,26.80 L175.48,26.74 L175.94,26.68 L176.41,26.62 L176.87,26.55 L177.34,26.49 L177.81,26.43 L178.27,26.37 L178.74,26.30 L179.20,26.24 L179.67,26.17 L180.14,26.11 L180.60,26.05 L181.07,25.98 L181.53,25.91 L182.00,25.85 L182.47,25.78 L182.93,25.72 L183.40,25.65 L183.87,25.58 L184.33,25.52 L184.80,25.45 L185.27,25.38 L185.73,25.31 L186.20,25.25 L186.66,25.18 L187.13,25.11 L187.60,25.04 L188.06,24.97 L188.53,24.90 L189.00,24.83 L189.46,24.76 L189.93,24.69 L190.40,24.62 L190.87,24.55 L191.33,24.48 L191.80,24.41 L192.27,24.34 L192.73,24.27 L193.20,24.20 L193.67,24.13 L194.13,24.06 L194.60,23.99 L195.07,23.92 L195.53,23.85 L196.00,23.77 L196.47,23.70 L196.94,23.63 L197.40,23.56 L197.87,23.49 L198.34,23.42 L198.81,23.34 L199.27,23.27 L199.74,23.20 L200.21,23.13 L200.68,23.06 L201.14,22.99 L201.61,22.91 L202.08,22.84 L202.55,22.77 L203.01,22.70 L203.48,22.63 L203.95,22.55 L204.42,22.48 L204.88,22.41 L205.35,22.34 L205.82,22.27 L206.29,22.20 L206.76,22.12 L207.22,22.05 L207.69,21.98 L208.16,21.91 L208.63,21.84 L209.10,21.77 L209.56,21.70 L210.03,21.62 L210.50,21.55 L210.97,21.48 L211.44,21.41 L211.91,21.34 L212.37,21.27 L212.84,21.20 L213.31,21.13 L213.78,21.06 L214.25,20.99 L214.72,20.92 L215.18,20.85 L215.65,20.78 L216.12,20.71 L216.59,20.65 L217.06,20.58 L217.53,20.51 L218.00,20.44 L218.47,20.37 L218.93,20.30 L219.40,20.24 L219.87,20.17 L220.34,20.10 L220.81,20.03 L221.28,19.97 L221.75,19.90 L222.22,19.84 L222.69,19.77 L223.16,19.70 L223.63,19.64 L224.09,19.57 L224.56,19.51 L225.03,19.44 L225.50,19.38 L225.97,19.32 L226.44,19.25 L226.91,19.19 L227.38,19.13 L227.85,19.06 L228.32,19.00 L228.79,18.94 L229.26,18.88 L229.73,18.81 L230.20,18.75 L230.67,18.69 L231.14,18.63 L231.61,18.57 L232.08,18.51 L232.55,18.45 L233.02,18.39 L233.49,18.33 L233.96,18.28 L234.43,18.22 L234.90,18.16 L235.37,18.10 L235.84,18.05 L236.31,17.99 L236.78,17.93 L237.25,17.88 L237.72,17.82 L238.19,17.77 L238.66,17.71 L239.13,17.66 L239.60,17.60 L240.08,17.55 L240.55,17.50 L241.02,17.44 L241.49,17.39 L241.96,17.34 L242.43,17.29 L242.90,17.23 L243.37,17.18 L243.84,17.13 L244.31,17.08 L244.78,17.03 L245.26,16.98 L245.73,16.94 L246.20,16.89 L246.67,16.84 L247.14,16.79 L247.61,16.74 L248.08,16.70 L248.56,16.65 L249.03,16.60 L249.50,16.56 L249.97,16.51 L250.44,16.47 L250.91,16.43 L251.39,16.38 L251.86,16.34 L252.33,16.29 L252.80,16.25 L253.27,16.21 L253.75,16.17 L254.22,16.13 L254.69,16.09 L255.16,16.04 L255.63,16.00 L256.11,15.97 L256.58,15.93 L257.05,15.89 L257.52,15.85 L258.00,15.81 L258.47,15.77 L258.94,15.74 L259.41,15.70 L259.89,15.66 L260.36,15.63 L260.83,15.59 L261.30,15.56 L261.78,15.52 L262.25,15.49 L262.72,15.45 L263.20,15.42 L263.67,15.39 L264.14,15.35 L264.61,15.32 L265.09,15.29 L265.56,15.26 L266.03,15.23 L266.51,15.19 L266.98,15.16 L267.45,15.13 L267.93,15.10 L268.40,15.08 L268.87,15.05 L269.35,15.02 L269.82,14.99 L270.30,14.96 L270.77,14.93 L271.24,14.91 L271.72,14.88 L272.19,14.85 L272.66,14.83 L273.14,14.80 L273.61,14.78 L274.09,14.75 L274.56,14.73 L275.04,14.71 L275.51,14.68 L275.98,14.66 L276.46,14.63 L276.93,14.61 L277.41,14.59 L277.88,14.57 L278.36,14.55 L278.83,14.52 L279.31,14.50 L279.78,14.48 L280.26,14.46 L280.73,14.44 L281.21,14.42 L281.68,14.40 L282.15,14.38 L282.63,14.37 L283.11,14.35 L283.58,14.33 L284.06,14.31 L284.53,14.29 L285.01,14.28 L285.48,14.26 L285.96,14.24 L286.43,14.23 L286.91,14.21 L287.38,14.19 L287.86,14.18 L288.34,14.16 L288.81,14.15 L289.29,14.13 L289.76,14.12 L290.24,14.11 L290.71,14.09 L291.19,14.08 L291.67,14.06 L292.14,14.05 L292.62,14.04 L293.10,14.03 L293.57,14.01 L294.05,14.00 L294.52,13.99 L295.00,13.98 L295.48,13.97 L295.95,13.95 L296.43,13.94 L296.91,13.93 L297.38,13.92 L297.86,13.91 L298.34,13.90 L298.81,13.89 L299.29,13.88 L299.77,13.87 L300.25,13.86 L300.72,13.85 L301.20,13.84 L301.68,13.83 L302.16,13.83 L302.63,13.82 L303.11,13.81 L303.59,13.80 L304.07,13.79 L304.54,13.79 L305.02,13.78 L305.50,13.77 L305.98,13.76 L306.45,13.76 L306.93,13.75 L307.41,13.74 L307.89,13.74 L308.37,13.73 L308.84,13.72 L309.32,13.72 L309.80,13.71 L310.28,13.70 L310.76,13.70 L311.24,13.69 L311.71,13.69 L312.19,13.68 L312.67,13.68 L313.15,13.67 L313.63,13.67 L314.11,13.66 L314.59,13.66 L315.07,13.65 L315.55,13.65 L316.02,13.64 L316.50,13.64 L316.98,13.64 L317.46,13.63 L317.94,13.63 L318.42,13.62 L318.90,13.62 L319.38,13.62 L319.86,13.61 L320.34,13.61 L320.82,13.61 L321.30,13.60 L321.78,13.60 L322.26,13.60 L322.74,13.59 L323.22,13.59 L323.70,13.59 L324.18,13.58 L324.66,13.58 L325.14,13.58 L325.62,13.58 L326.10,13.57 L326.58,13.57 L327.06,13.57 L327.54,13.57 L328.02,13.56 L328.50,13.56 L328.98,13.56 L329.46,13.56 L329.95,13.56 L330.43,13.55 L330.91,13.55 L331.39,13.55 L331.87,13.55 L332.35,13.55 L332.83,13.55 L333.31,13.54 L333.80,13.54 L334.28,13.54 L334.76,13.54 L335.24,13.54 L335.72,13.54 L336.20,13.54 L336.69,13.53 L337.17,13.53 L337.65,13.53 L338.13,13.53 L338.61,13.53 L339.10,13.53 L339.58,13.53 L340.06,13.53 L340.54,13.53 L341.03,13.52 L341.51,13.52 L341.99,13.52 L342.47,13.52 L342.96,13.52 L343.44,13.52 L343.92,13.52 L344.40,13.52 L344.89,13.52 L345.37,13.52 L345.85,13.52 L346.34,13.52 L346.82,13.52 L347.30,13.51 L347.79,13.51 L348.27,13.51 L348.75,13.51 L349.24,13.51 L349.72,13.51 L350.21,13.51 L350.69,13.51 L351.17,13.51 L351.66,13.51 L352.14,13.51 L352.63,13.51 L353.11,13.51 L353.59,13.51 L354.08,13.51 L354.56,13.51 L355.05,13.51 L355.53,13.51 L356.02,13.51 L356.50,13.51 L356.99,13.51 L357.47,13.51 L357.96,13.51 L358.44,13.51 L358.93,13.51 L359.41,13.51 L359.90,13.50 L360.38,13.50 L360.87,13.50 L361.35,13.50 L361.84,13.50 L362.32,13.50 L362.81,13.50 L363.29,13.50 L363.78,13.50 L364.27,13.50 L364.75,13.50 L365.24,13.50 L365.72,13.50 L366.21,13.50 L366.70,13.50 L367.18,13.50 L367.67,13.50 L368.16,13.50 L368.64,13.50 L369.13,13.50 L369.62,13.50 L370.10,13.50 L370.59,13.50 L371.08,13.50 L371.56,13.50 L372.05,13.50 L372.54,13.50 L373.02,13.50 L373.51,13.50 L374.00,13.50 L374.49,13.50 L374.97,13.50 L375.46,13.50 L375.95,13.50 L376.44,13.50 L376.92,13.50 L377.41,13.50 L377.90,13.50 L378.39,13.50 L378.88,13.50 L379.36,13.50 L379.85,13.50 L380.34,13.50 L380.83,13.50 L381.32,13.50 L381.81,13.50 L382.29,13.50 L382.78,13.50 L383.27,13.50 L383.76,13.50 L384.25,13.50 L384.74,13.50 L385.23,13.50 L385.72,13.50 L386.21,13.50 L386.70,13.50 L387.19,13.50 L387.68,13.50 L388.16,13.50 L388.65,13.50 L389.14,13.50 L389.63,13.50 L390.12,13.50 L390.61,13.50 L391.10,13.50 L391.59,13.50 L392.08,13.50 L392.57,13.50 L393.07,13.50 L393.56,13.50 L394.05,13.50 L394.54,13.50 L395.03,13.50 L395.52,13.50 L396.01,13.50 L396.50,13.50" stroke="#ff0000" stroke-dasharray="6.65 2.39" stroke-dashoffset="1"/>
</g>
<g font-family="Liberation Sans, sans-serif" font-weight="bold" font-size="14.5px" fill="#000">
<text x="66.50" y="233.9" text-anchor="middle">0.0</text>
<text x="132.50" y="233.9" text-anchor="middle">0.2</text>
<text x="198.50" y="233.9" text-anchor="middle">0.4</text>
<text x="264.50" y="233.9" text-anchor="middle">0.6</text>
<text x="330.50" y="233.9" text-anchor="middle">0.8</text>
<text x="396.50" y="233.9" text-anchor="middle">1.0</text>
<text x="56.1" y="19.10" text-anchor="end">0.0</text>
<text x="56.1" y="64.79" text-anchor="end">−0.5</text>
<text x="56.1" y="110.48" text-anchor="end">−1.0</text>
<text x="56.1" y="156.17" text-anchor="end">−1.5</text>
<text x="56.1" y="201.86" text-anchor="end">−2.0</text>
<text x="231.4" y="258.5" text-anchor="middle" font-size="15.5px">x</text>
<g transform="translate(14.6,127.2) rotate(-90)">
<text x="0" y="0" font-size="15.5px">x</text>
<text x="11.6" y="0" font-style="italic" font-size="14.5px" transform="translate(11.6,0) scale(1.12,1) translate(-11.6,0)">h</text>
<text x="22.2" y="2.9" font-size="10px" font-style="italic" font-weight="normal" stroke="#000" stroke-width="0.25">T</text>
<path d="M22.6,-6.3h4.8M25,-6.3v-5" stroke="#000" stroke-width="1" fill="none"/>
<text x="29" y="-5.4" font-size="10px" font-style="italic">d</text>
</g>
<path d="M287.7,132.1H333" stroke="#000" stroke-width="1.9" fill="none"/>
<text x="341.5" y="135" font-style="italic">p</text>
<text x="350.4" y="130.20" font-size="9px">2</text>
<path d="M349.5,139.50h6M352.5,139.50v-5" stroke="#000" stroke-width="1.1" fill="none"/>
<text transform="translate(356.9,131.40) scale(0.96,0.8) translate(0,3.9)" font-size="14px" stroke="#000" stroke-width="0.2">=</text>
<text transform="translate(365.1,135) scale(1,1.06)" font-size="14px">0.1</text>
<path d="M287.7,159.8H333" stroke="#0000ff" stroke-width="1.9" stroke-dasharray="3 2.7" fill="none"/>
<text x="341.5" y="163.5" font-style="italic">p</text>
<text x="350.4" y="158.70" font-size="9px">2</text>
<path d="M349.5,168.00h6M352.5,168.00v-5" stroke="#000" stroke-width="1.1" fill="none"/>
<text transform="translate(356.9,159.90) scale(0.96,0.8) translate(0,3.9)" font-size="14px" stroke="#000" stroke-width="0.2">=</text>
<text transform="translate(365.1,163.5) scale(1,1.06)" font-size="14px">0.2</text>
<path d="M287.7,187.2H333" stroke="#ff0000" stroke-width="1.9" stroke-dasharray="6.7 2.4" fill="none"/>
<text x="341.5" y="191.9" font-style="italic">p</text>
<text x="350.4" y="187.10" font-size="9px">2</text>
<path d="M349.5,196.40h6M352.5,196.40v-5" stroke="#000" stroke-width="1.1" fill="none"/>
<text transform="translate(356.9,188.30) scale(0.96,0.8) translate(0,3.9)" font-size="14px" stroke="#000" stroke-width="0.2">=</text>
<text transform="translate(365.1,191.9) scale(1,1.06)" font-size="14px">0.3</text>
</g>
</svg>
</body></html>
